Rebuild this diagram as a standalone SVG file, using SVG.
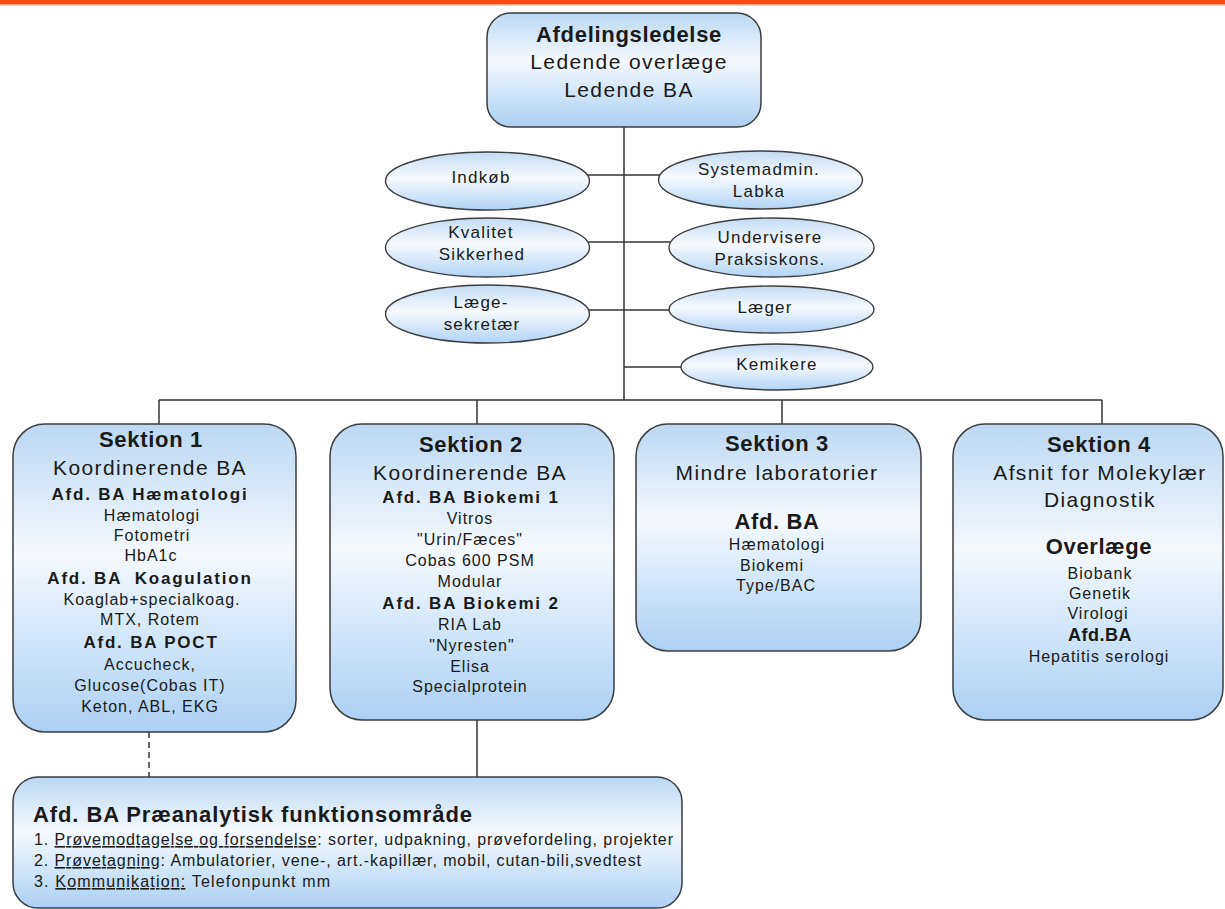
<svg xmlns="http://www.w3.org/2000/svg" width="1225" height="909" viewBox="0 0 1225 909">
<defs>
<linearGradient id="g" x1="0" y1="0" x2="0" y2="1">
<stop offset="0" stop-color="#bcd7f2"/>
<stop offset="0.42" stop-color="#f5f9fd"/>
<stop offset="1" stop-color="#acd0f5"/>
</linearGradient>
<linearGradient id="ge" x1="0" y1="0" x2="0" y2="1">
<stop offset="0" stop-color="#c3dbf3"/>
<stop offset="0.45" stop-color="#f7fafd"/>
<stop offset="1" stop-color="#b2d3f5"/>
</linearGradient>
<style>
.box{fill:url(#g);stroke:#3d3d3d;stroke-width:1.5}
.ell{fill:url(#ge);stroke:#3d3d3d;stroke-width:1.4}
.ln{stroke:#333;stroke-width:1.5;fill:none}
.dash{stroke-dasharray:6 4}
text{font-family:"Liberation Sans",Arial,sans-serif;fill:#1a1a1a;text-anchor:middle}
.title{font-size:22px;font-weight:bold;letter-spacing:0.7px}
.sub{font-size:21px;letter-spacing:1.4px}
.head{font-size:17px;font-weight:bold;letter-spacing:1.8px}
.big{font-size:22px;font-weight:bold;letter-spacing:0.6px}
.item{font-size:16px;letter-spacing:1px}
.et{font-size:17px;letter-spacing:1.2px}
.bl{text-anchor:start}
.u{text-decoration:underline}
</style>
</defs>
<rect x="0" y="0" width="1225" height="4" fill="#ff4a14"/>
<rect x="0" y="4" width="1225" height="1.5" fill="#ffa585"/>

<g id="connectors">
<line class="ln" x1="624" y1="127" x2="624" y2="400"/>
<line class="ln" x1="575" y1="175" x2="670" y2="175"/>
<line class="ln" x1="575" y1="242" x2="680" y2="242"/>
<line class="ln" x1="575" y1="310" x2="680" y2="310"/>
<line class="ln" x1="624" y1="367" x2="690" y2="367"/>
<line class="ln" x1="159" y1="400" x2="1102" y2="400"/>
<line class="ln" x1="159" y1="400" x2="159" y2="424"/>
<line class="ln" x1="477" y1="400" x2="477" y2="424"/>
<line class="ln" x1="782" y1="400" x2="782" y2="424"/>
<line class="ln" x1="1102" y1="400" x2="1102" y2="424"/>
<line class="ln" x1="477" y1="720" x2="477" y2="777"/>
<line class="ln dash" x1="149" y1="732" x2="149" y2="777"/>
</g>

<g id="afdelingsledelse">
<rect class="box" x="487" y="13" width="274" height="114" rx="24"/>
<text class="title" x="629" y="42">Afdelingsledelse</text>
<text class="sub" x="629" y="69">Ledende overlæge</text>
<text class="sub" x="629" y="97">Ledende BA</text>
</g>

<g id="indkob">
<ellipse class="ell" cx="487.5" cy="181" rx="102" ry="29"/>
<text class="et" x="481" y="183">Indkøb</text>
</g>
<g id="kvalitet">
<ellipse class="ell" cx="487.5" cy="247.5" rx="102" ry="29.5"/>
<text class="et" x="481" y="238">Kvalitet</text>
<text class="et" x="482" y="260">Sikkerhed</text>
</g>
<g id="laegesekretaer">
<ellipse class="ell" cx="487.5" cy="314" rx="102" ry="29"/>
<text class="et" x="481" y="308">Læge-</text>
<text class="et" x="482" y="330">sekretær</text>
</g>
<g id="systemadmin">
<ellipse class="ell" cx="760.5" cy="180" rx="102" ry="29"/>
<text class="et" x="759" y="175">Systemadmin.</text>
<text class="et" x="759" y="197">Labka</text>
</g>
<g id="undervisere">
<ellipse class="ell" cx="771.5" cy="247.5" rx="102.5" ry="29.5"/>
<text class="et" x="770" y="243">Undervisere</text>
<text class="et" x="770" y="265">Praksiskons.</text>
</g>
<g id="laeger">
<ellipse class="ell" cx="771.5" cy="309.5" rx="102.5" ry="23.5"/>
<text class="et" x="765" y="313">Læger</text>
</g>
<g id="kemikere">
<ellipse class="ell" cx="777" cy="367" rx="96" ry="23"/>
<text class="et" x="777" y="370">Kemikere</text>
</g>

<g id="sektion1">
<rect class="box" x="13" y="424" width="283" height="308" rx="32"/>
<text class="title" x="151" y="447">Sektion 1</text>
<text class="sub" x="150" y="475">Koordinerende BA</text>
<text class="head" x="150" y="500">Afd. BA Hæmatologi</text>
<text class="item" x="152" y="521">Hæmatologi</text>
<text class="item" x="152" y="541">Fotometri</text>
<text class="item" x="151" y="561">HbA1c</text>
<text class="head" x="150" y="584" xml:space="preserve">Afd. BA  Koagulation</text>
<text class="item" x="152" y="605">Koaglab+specialkoag.</text>
<text class="item" x="150" y="625">MTX, Rotem</text>
<text class="head" x="151" y="648">Afd. BA POCT</text>
<text class="item" x="150" y="670">Accucheck,</text>
<text class="item" x="150" y="691">Glucose(Cobas IT)</text>
<text class="item" x="150" y="712">Keton, ABL, EKG</text>
</g>

<g id="sektion2">
<rect class="box" x="330" y="424" width="284" height="296" rx="32"/>
<text class="title" x="471" y="452">Sektion 2</text>
<text class="sub" x="470" y="480">Koordinerende BA</text>
<text class="head" x="471" y="503">Afd. BA Biokemi 1</text>
<text class="item" x="470" y="524">Vitros</text>
<text class="item" x="470" y="545">"Urin/Fæces"</text>
<text class="item" x="470" y="566">Cobas 600 PSM</text>
<text class="item" x="470" y="587">Modular</text>
<text class="head" x="471" y="609">Afd. BA Biokemi 2</text>
<text class="item" x="470" y="630">RIA Lab</text>
<text class="item" x="472" y="651">"Nyresten"</text>
<text class="item" x="470" y="672">Elisa</text>
<text class="item" x="470" y="692">Specialprotein</text>
</g>

<g id="sektion3">
<rect class="box" x="636" y="424" width="285" height="227" rx="32"/>
<text class="title" x="777" y="451">Sektion 3</text>
<text class="sub" x="777" y="480">Mindre laboratorier</text>
<text class="big" x="777" y="529">Afd. BA</text>
<text class="item" x="777" y="550">Hæmatologi</text>
<text class="item" x="772" y="571">Biokemi</text>
<text class="item" x="776" y="591">Type/BAC</text>
</g>

<g id="sektion4">
<rect class="box" x="953" y="424" width="270" height="296" rx="32"/>
<text class="title" x="1099" y="452">Sektion 4</text>
<text class="sub" x="1100" y="480">Afsnit for Molekylær</text>
<text class="sub" x="1100" y="507">Diagnostik</text>
<text class="big" x="1099" y="554">Overlæge</text>
<text class="item" x="1100" y="579">Biobank</text>
<text class="item" x="1100" y="599">Genetik</text>
<text class="item" x="1098" y="619">Virologi</text>
<text class="head" x="1100" y="641" style="font-size:18px;letter-spacing:0.5px">Afd.BA</text>
<text class="item" x="1099" y="662">Hepatitis serologi</text>
</g>

<g id="praeanalytisk">
<rect class="box" x="13" y="777" width="669" height="131" rx="25"/>
<text class="title bl" x="33" y="822" style="letter-spacing:0.9px">Afd. BA Præanalytisk funktionsområde</text>
<text class="item bl" x="34" y="845" textLength="639" style="letter-spacing:0">1. <tspan class="u">Prøvemodtagelse og forsendelse</tspan>: sorter, udpakning, prøvefordeling, projekter</text>
<text class="item bl" x="34" y="866" textLength="607" style="letter-spacing:0">2. <tspan class="u">Prøvetagning</tspan>: Ambulatorier, vene-, art.-kapillær, mobil, cutan-bili,svedtest</text>
<text class="item bl" x="34" y="887" textLength="296" style="letter-spacing:0">3. <tspan class="u">Kommunikation:</tspan> Telefonpunkt mm</text>
</g>
</svg>
